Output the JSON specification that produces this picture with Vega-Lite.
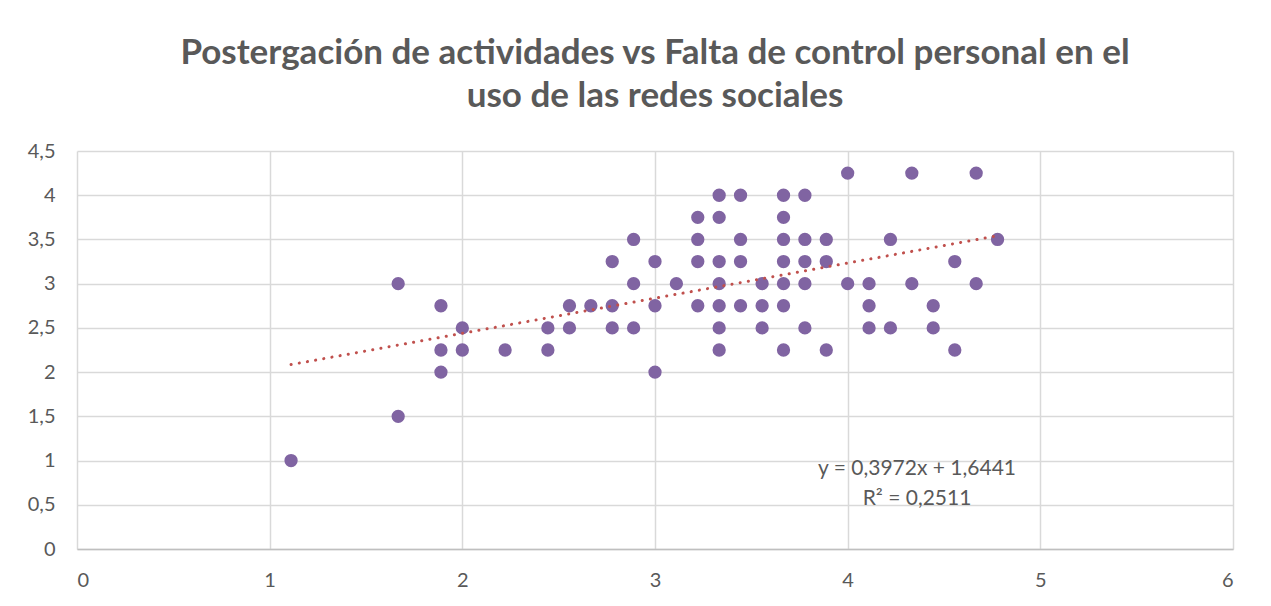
{
  "$schema": "https://vega.github.io/schema/vega-lite/v6.json",
  "autosize": {"type": "none"},
  "width": 1156,
  "height": 398,
  "padding": {"left": 77, "top": 151, "right": 38, "bottom": 57},
  "background": "white",
  "title": {
    "text": ["Postergación de actividades vs Falta de control personal en el", "uso de las redes sociales"],
    "font": "Lato",
    "fontSize": 35,
    "fontWeight": "bold",
    "color": "#595959",
    "anchor": "middle",
    "lineHeight": 43,
    "offset": 27
  },
  "config": {
    "view": {"stroke": null},
    "axis": {
      "labelFont": "Lato",
      "labelFontSize": 20,
      "labelColor": "#595959",
      "gridColor": "#d9d9d9",
      "gridWidth": 1.5,
      "ticks": false,
      "title": null
    }
  },
  "datasets": {
    "pts": [
      {"x": 1.111, "y": 1.0},
      {"x": 1.667, "y": 3.0},
      {"x": 1.667, "y": 1.5},
      {"x": 1.889, "y": 2.75},
      {"x": 1.889, "y": 2.25},
      {"x": 1.889, "y": 2.0},
      {"x": 2.0, "y": 2.5},
      {"x": 2.0, "y": 2.25},
      {"x": 2.222, "y": 2.25},
      {"x": 2.444, "y": 2.5},
      {"x": 2.444, "y": 2.25},
      {"x": 2.556, "y": 2.75},
      {"x": 2.556, "y": 2.5},
      {"x": 2.667, "y": 2.75},
      {"x": 2.778, "y": 3.25},
      {"x": 2.778, "y": 2.75},
      {"x": 2.778, "y": 2.5},
      {"x": 2.889, "y": 3.5},
      {"x": 2.889, "y": 3.0},
      {"x": 2.889, "y": 2.5},
      {"x": 3.0, "y": 3.25},
      {"x": 3.0, "y": 2.75},
      {"x": 3.0, "y": 2.0},
      {"x": 3.111, "y": 3.0},
      {"x": 3.222, "y": 3.75},
      {"x": 3.222, "y": 3.5},
      {"x": 3.222, "y": 3.25},
      {"x": 3.222, "y": 2.75},
      {"x": 3.333, "y": 4.0},
      {"x": 3.333, "y": 3.75},
      {"x": 3.333, "y": 3.25},
      {"x": 3.333, "y": 3.0},
      {"x": 3.333, "y": 2.75},
      {"x": 3.333, "y": 2.5},
      {"x": 3.333, "y": 2.25},
      {"x": 3.444, "y": 4.0},
      {"x": 3.444, "y": 3.5},
      {"x": 3.444, "y": 3.25},
      {"x": 3.444, "y": 2.75},
      {"x": 3.556, "y": 3.0},
      {"x": 3.556, "y": 2.75},
      {"x": 3.556, "y": 2.5},
      {"x": 3.667, "y": 4.0},
      {"x": 3.667, "y": 3.75},
      {"x": 3.667, "y": 3.5},
      {"x": 3.667, "y": 3.25},
      {"x": 3.667, "y": 3.0},
      {"x": 3.667, "y": 2.75},
      {"x": 3.667, "y": 2.25},
      {"x": 3.778, "y": 4.0},
      {"x": 3.778, "y": 3.5},
      {"x": 3.778, "y": 3.25},
      {"x": 3.778, "y": 3.0},
      {"x": 3.778, "y": 2.5},
      {"x": 3.889, "y": 3.5},
      {"x": 3.889, "y": 3.25},
      {"x": 3.889, "y": 2.25},
      {"x": 4.0, "y": 4.25},
      {"x": 4.0, "y": 3.0},
      {"x": 4.111, "y": 3.0},
      {"x": 4.111, "y": 2.75},
      {"x": 4.111, "y": 2.5},
      {"x": 4.222, "y": 3.5},
      {"x": 4.222, "y": 2.5},
      {"x": 4.333, "y": 4.25},
      {"x": 4.333, "y": 3.0},
      {"x": 4.444, "y": 2.75},
      {"x": 4.444, "y": 2.5},
      {"x": 4.556, "y": 3.25},
      {"x": 4.556, "y": 2.25},
      {"x": 4.667, "y": 4.25},
      {"x": 4.667, "y": 3.0},
      {"x": 4.778, "y": 3.5}
    ],
    "trend": [
      {"x": 1.111, "y": 2.085},
      {"x": 4.778, "y": 3.542}
    ],
    "labels": [
      {"x": 4.36, "y": 0.905, "t": "y = 0,3972x + 1,6441"},
      {"x": 4.36, "y": 0.57, "t": "R² = 0,2511"}
    ]
  },
  "layer": [
    {
      "data": {"name": "pts"},
      "mark": {"type": "point", "filled": true, "size": 177, "opacity": 1, "color": "#8064A2"},
      "encoding": {
        "x": {
          "field": "x", "type": "quantitative",
          "scale": {"domain": [0, 6], "nice": false, "zero": false},
          "axis": {
            "values": [0, 1, 2, 3, 4, 5, 6],
            "format": "d",
            "labelPadding": 21,
            "domainColor": "#bfbfbf",
            "domainWidth": 1.5
          }
        },
        "y": {
          "field": "y", "type": "quantitative",
          "scale": {"domain": [0, 4.5], "nice": false},
          "axis": {
            "values": [0, 0.5, 1, 1.5, 2, 2.5, 3, 3.5, 4, 4.5],
            "labelPadding": 22,
            "domain": false,
            "format": ".1~f",
            "labelExpr": "replace(datum.label, '.', ',')"
          }
        }
      }
    },
    {
      "data": {"name": "trend"},
      "mark": {"type": "line", "color": "#C0504D", "strokeWidth": 3, "strokeCap": "round", "strokeDash": [0.1, 8.2]},
      "encoding": {
        "x": {"field": "x", "type": "quantitative"},
        "y": {"field": "y", "type": "quantitative"}
      }
    },
    {
      "data": {"name": "labels"},
      "mark": {"type": "text", "font": "Lato", "fontSize": 21, "color": "#595959", "align": "center", "baseline": "middle"},
      "encoding": {
        "x": {"field": "x", "type": "quantitative"},
        "y": {"field": "y", "type": "quantitative"},
        "text": {"field": "t"}
      }
    }
  ]
}
